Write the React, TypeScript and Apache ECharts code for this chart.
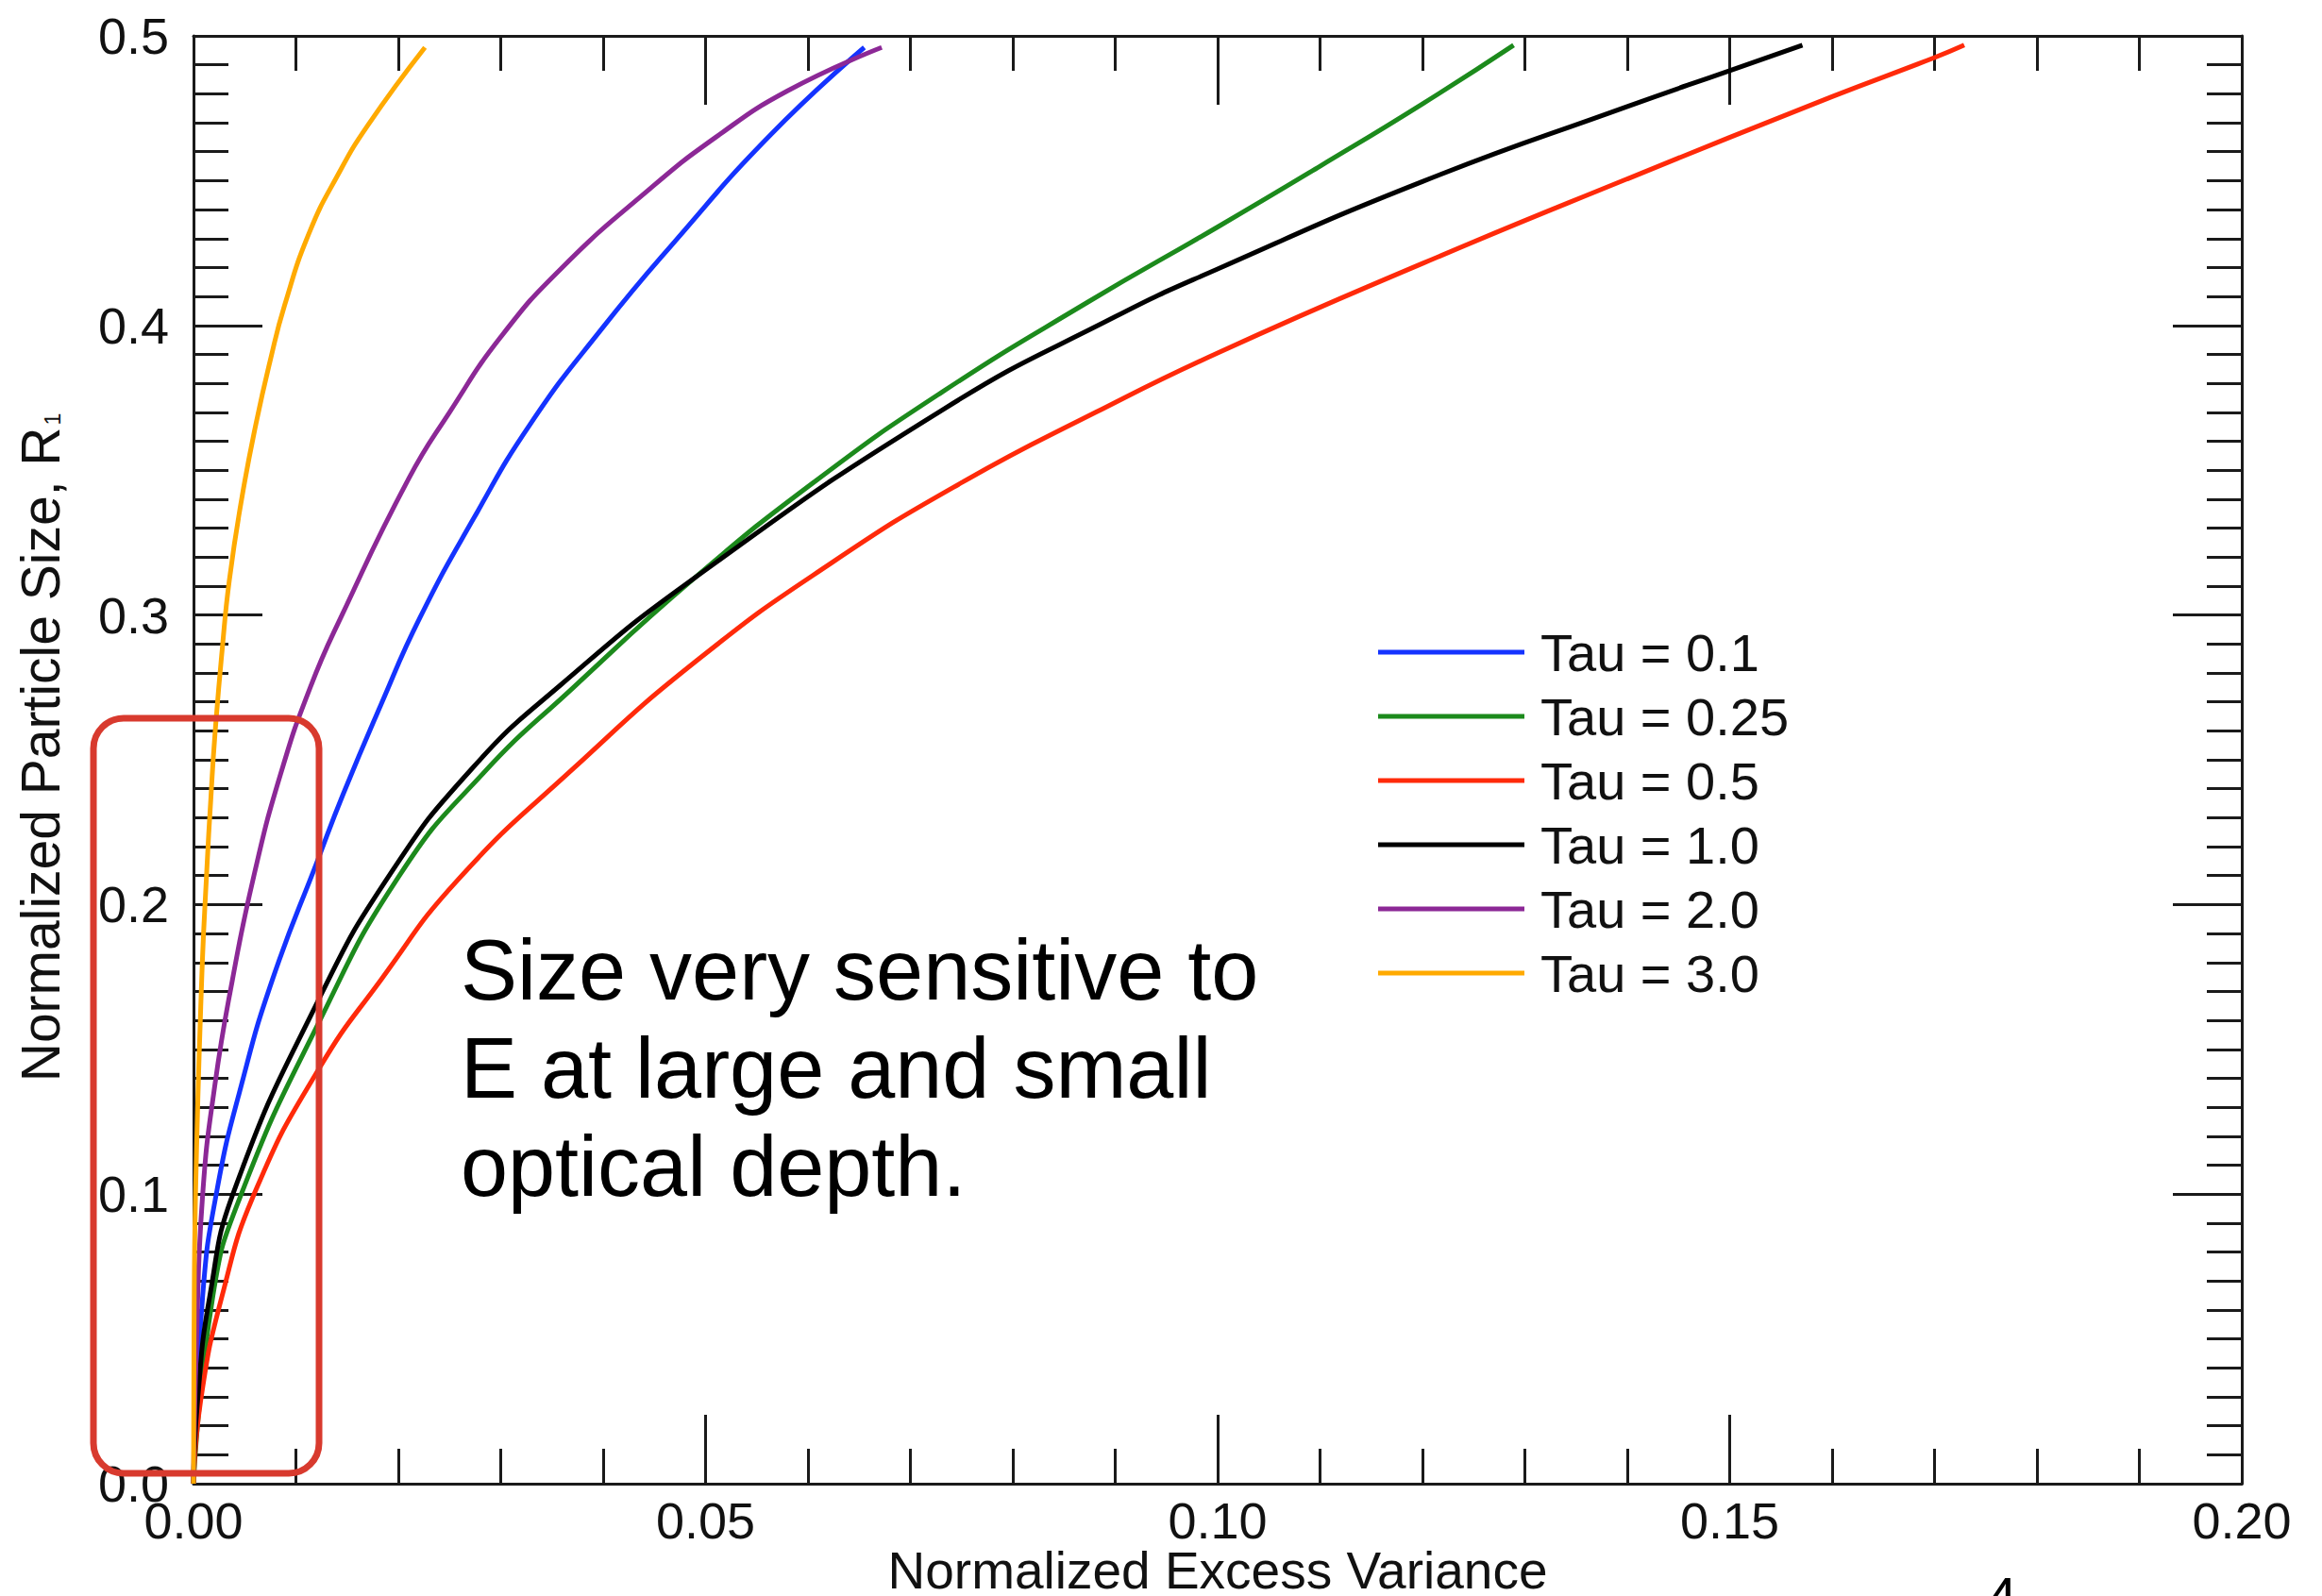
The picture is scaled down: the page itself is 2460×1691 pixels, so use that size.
import React, { useEffect, useRef } from "react";
import * as echarts from "echarts";

const seriesNames = ["Tau = 0.1", "Tau = 0.25", "Tau = 0.5", "Tau = 1.0", "Tau = 2.0", "Tau = 3.0"];
const seriesColors = ["#1433ff", "#1c8a1c", "#ff2a0a", "#000000", "#8c2896", "#ffaa00"];

const tau01: number[][] = [
  [0, 0], [0.0009, 0.065], [0.0023, 0.1015], [0.0047, 0.138], [0.0077, 0.174], [0.0122, 0.216],
  [0.0146, 0.238], [0.0183, 0.269], [0.0221, 0.299], [0.0273, 0.333], [0.0329, 0.366], [0.0399, 0.399],
  [0.047, 0.429], [0.0564, 0.466], [0.0655, 0.496],
];
const tau025: number[][] = [
  [0, 0], [0.0019, 0.065], [0.0045, 0.0985], [0.0122, 0.159], [0.0202, 0.2105], [0.0282, 0.245],
  [0.0371, 0.275], [0.049, 0.313], [0.061, 0.347], [0.0731, 0.377], [0.0873, 0.408], [0.10, 0.434],
  [0.11, 0.455], [0.12, 0.4765], [0.1289, 0.4968],
];
const tau05: number[][] = [
  [0, 0], [0.0007, 0.0287], [0.0028, 0.065], [0.0061, 0.1015], [0.0122, 0.143], [0.0183, 0.174],
  [0.0258, 0.2085], [0.0371, 0.247], [0.0493, 0.2847], [0.0623, 0.318], [0.0752, 0.3461], [0.0881, 0.370],
  [0.10, 0.3905], [0.12, 0.4214], [0.14, 0.4506], [0.16, 0.479], [0.17, 0.4925], [0.1729, 0.4968],
];
const tau10: number[][] = [
  [0, 0], [0.0004, 0.0287], [0.0016, 0.065], [0.0040, 0.1015], [0.0122, 0.167], [0.0192, 0.2105],
  [0.0272, 0.247], [0.0359, 0.276], [0.049, 0.313], [0.0732, 0.371], [0.09, 0.403], [0.10, 0.4195],
  [0.12, 0.4497], [0.14, 0.4756], [0.15, 0.488], [0.1571, 0.4968],
];
const tau20: number[][] = [
  [0, 0], [0.0003, 0.05], [0.0009, 0.10], [0.0021, 0.138], [0.0038, 0.174], [0.0059, 0.21],
  [0.0085, 0.245], [0.0114, 0.275], [0.0145, 0.30], [0.021, 0.347], [0.025, 0.370], [0.030, 0.396],
  [0.036, 0.420], [0.0445, 0.447], [0.051, 0.465], [0.058, 0.481], [0.0672, 0.496],
];
const tau30: number[][] = [
  [0, 0], [0.00005, 0.05], [0.0002, 0.10], [0.0008, 0.174], [0.0013, 0.212], [0.0017, 0.237],
  [0.0021, 0.259], [0.0028, 0.288], [0.0035, 0.312], [0.0047, 0.340], [0.0061, 0.366], [0.0075, 0.388],
  [0.0089, 0.407], [0.0113, 0.432], [0.0141, 0.452], [0.0170, 0.469], [0.0226, 0.496],
];
const seriesData = [tau01, tau025, tau05, tau10, tau20, tau30];

const xAxisName = "Normalized Excess Variance";
const yAxisName = "Normalized Particle Size, R";
const yAxisSub = "1";
const noteLines = ["Size very sensitive to", "E at large and small", "optical depth."];
const pageNumber = "4";

const FONT = '"Liberation Sans", Arial, Helvetica, sans-serif';
const AX = "#1a1a1a";

function axisBase(min: number, max: number, interval: number, minorSplit: number) {
  return {
    type: "value" as const,
    min,
    max,
    interval,
    axisLine: { show: true, onZero: false, lineStyle: { color: AX, width: 3 } },
    axisTick: { show: true, inside: true, length: 73, lineStyle: { color: AX, width: 3 } },
    minorTick: { show: true, splitNumber: minorSplit, length: 37, lineStyle: { color: AX, width: 3 } },
    splitLine: { show: false },
    minorSplitLine: { show: false },
  };
}

export default function App() {
  const ref = useRef<HTMLDivElement>(null);
  useEffect(() => {
    if (!ref.current) return;
    const chart = echarts.init(ref.current, null, { renderer: "svg" });
    const option = {
      animation: false,
      backgroundColor: "#ffffff",
      textStyle: { fontFamily: FONT },
      grid: { left: 205, right: 85, top: 38, bottom: 119, containLabel: false, outerBoundsMode: "none" },
      legend: {
        show: true,
        orient: "vertical",
        left: 1455,
        top: 656,
        itemWidth: 155,
        itemHeight: 5,
        itemGap: 8,
        icon: "rect",
        selectedMode: false,
        data: seriesNames,
        textStyle: { fontFamily: FONT, fontSize: 56, color: "#111", lineHeight: 60, padding: [0, 0, 0, 12] },
      },
      xAxis: [
        {
          ...axisBase(0, 0.2, 0.05, 5),
          position: "bottom",
          name: xAxisName,
          nameLocation: "middle",
          nameGap: 68,
          nameMoveOverlap: false,
          nameTextStyle: { fontFamily: FONT, fontSize: 55, lineHeight: 48, color: "#111" },
          axisLabel: {
            show: true,
            margin: 12,
            fontFamily: FONT,
            fontSize: 54,
            lineHeight: 54,
            color: "#111",
            formatter: (v: number) => v.toFixed(2),
          },
        },
        {
          ...axisBase(0, 0.2, 0.05, 5),
          position: "top",
          axisLabel: { show: false },
        },
      ],
      yAxis: [
        {
          ...axisBase(0, 0.5, 0.1, 10),
          position: "left",
          name: `{a|${yAxisName}}{s|${yAxisSub}}`,
          nameLocation: "middle",
          nameGap: 134,
          nameTextStyle: {
            fontFamily: FONT,
            fontSize: 57,
            color: "#111",
            padding: [0, 0, 0, 26],
            rich: {
              a: { fontFamily: FONT, fontSize: 57, color: "#111" },
              s: { fontFamily: FONT, fontSize: 23, color: "#111", verticalAlign: "bottom", padding: [0, 0, 4, 2] },
            },
          },
          axisLabel: {
            show: true,
            margin: 26,
            fontFamily: FONT,
            fontSize: 54,
            color: "#111",
            formatter: (v: number) => v.toFixed(1),
          },
        },
        {
          ...axisBase(0, 0.5, 0.1, 10),
          position: "right",
          axisLabel: { show: false },
        },
      ],
      series: seriesData.map((d, i) => ({
        name: seriesNames[i],
        type: "line",
        xAxisIndex: 0,
        yAxisIndex: 0,
        data: d,
        symbol: "none",
        smooth: 0.5,
        clip: false,
        lineStyle: { color: seriesColors[i], width: 5 },
        itemStyle: { color: seriesColors[i] },
        z: 3 + i,
      })),
      graphic: [
        {
          type: "rect",
          z: 100,
          shape: { x: 99, y: 761, width: 239, height: 800, r: 32 },
          style: { fill: "none", stroke: "#d83a2e", lineWidth: 7 },
        },
        {
          type: "text",
          z: 100,
          x: 488,
          y: 976,
          style: {
            text: noteLines.join("\n"),
            font: `90px ${FONT}`,
            fill: "#000",
            lineHeight: 104,
            align: "left",
            verticalAlign: "top",
          },
        },
        {
          type: "text",
          z: 100,
          x: 2104,
          y: 1662,
          style: {
            text: pageNumber,
            font: `60px ${FONT}`,
            fill: "#000",
            align: "left",
            verticalAlign: "top",
          },
        },
      ],
    };
    chart.setOption(option as any);
    return () => chart.dispose();
  }, []);
  return <div ref={ref} style={{ position: "absolute", left: 0, top: 0, width: 2460, height: 1691 }} />;
}
